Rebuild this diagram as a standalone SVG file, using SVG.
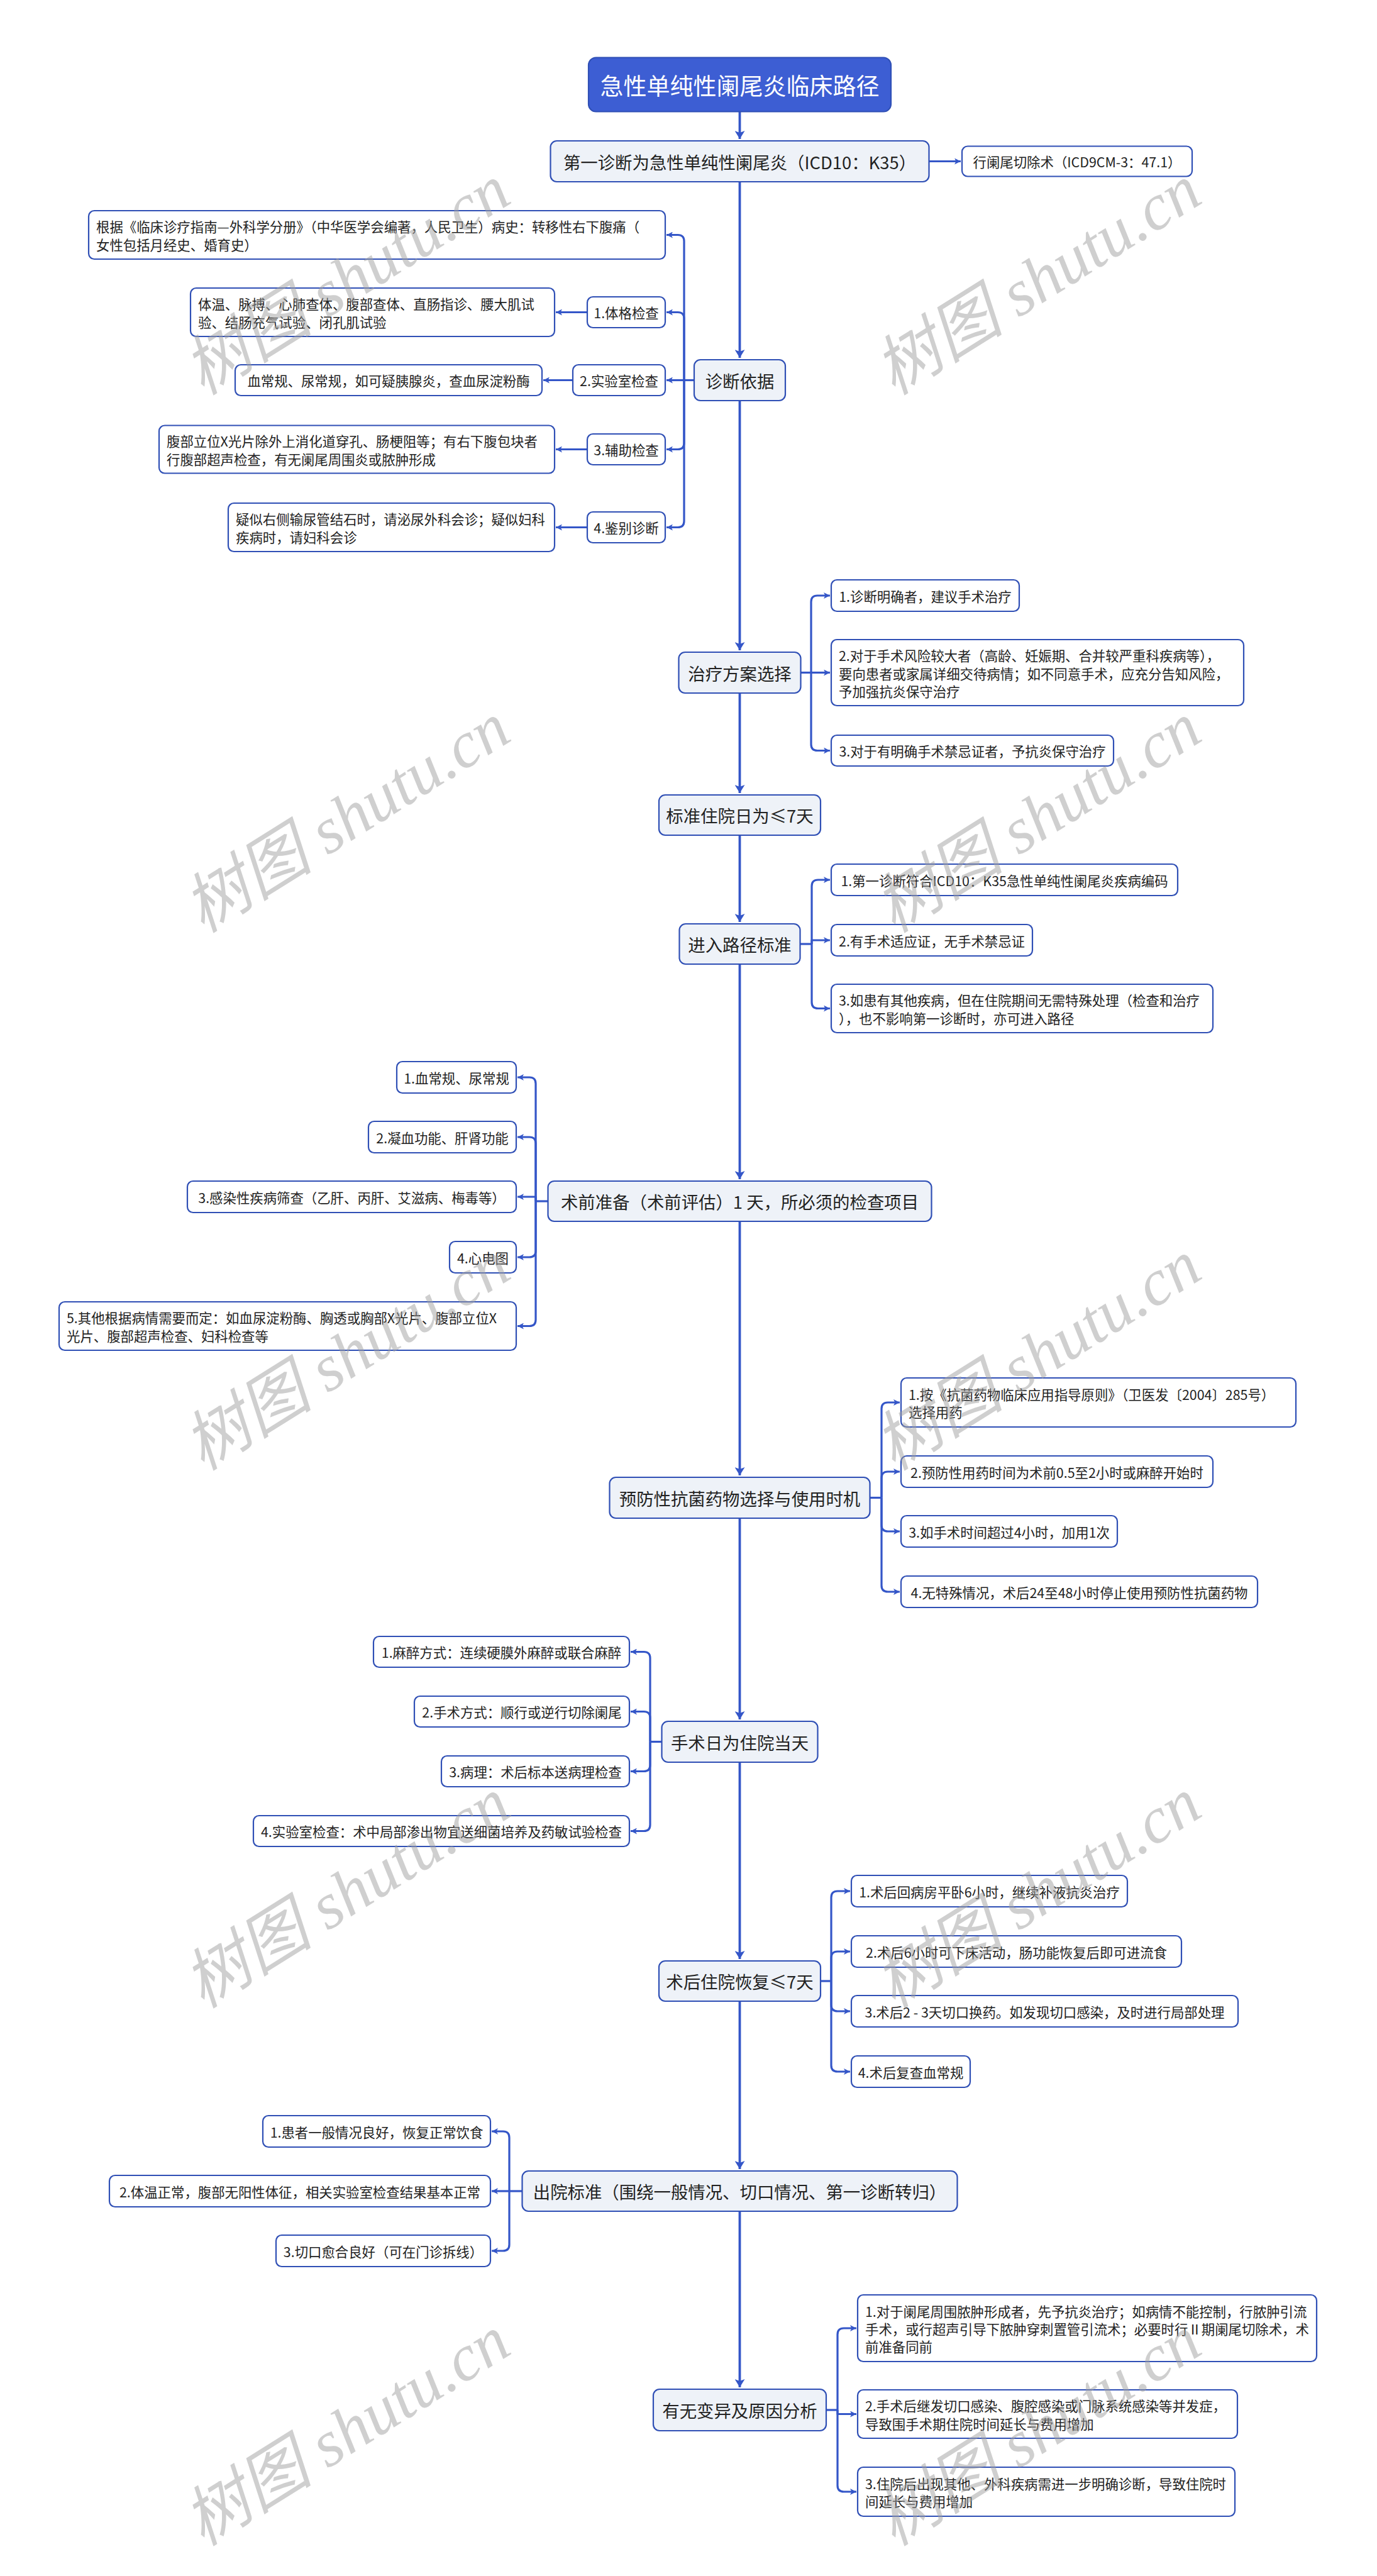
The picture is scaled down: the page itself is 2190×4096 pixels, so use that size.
<svg xmlns="http://www.w3.org/2000/svg" width="2190" height="4096" viewBox="0 0 2190 4096">
<style>
.t{font-family:"Noto Sans CJK SC","Noto Sans",sans-serif;fill:#222}
.f1{font-size:37px;fill:#fff}
.f2{font-size:27.4px}
.f3{font-size:21.4px}
.l1 rect{fill:#3d5ed3;stroke:#2f4fb5;stroke-width:2.2}
.l2 rect{fill:#eef2f8;stroke:#2f4fb5;stroke-width:2.2}
.l3 rect{fill:#fff;stroke:#2f4fb5;stroke-width:2.2}
.c{fill:none;stroke:#3456c8;stroke-width:3.2;stroke-linejoin:round}
.sp{fill:none;stroke:#3456c8;stroke-width:3.8}
.wm{font-family:"Liberation Serif","Noto Sans CJK SC",serif;font-style:italic;font-size:104px;fill:#a0a0a0;fill-opacity:.5}
</style>
<defs>
<marker id="ah" viewBox="0 0 10 10" refX="10" refY="5" markerWidth="10" markerHeight="10" markerUnits="userSpaceOnUse" orient="auto"><path d="M0,0 L10,5 L0,10 L2.5,5 z" fill="#3456c8"/></marker>
<marker id="ahb" viewBox="0 0 13 16" refX="13" refY="8" markerWidth="13" markerHeight="16" markerUnits="userSpaceOnUse" orient="auto"><path d="M0,0 L13,8 L0,16 L3,8 z" fill="#3456c8"/></marker>
</defs>
<rect width="2190" height="4096" fill="#fff"/>

<g id="connectors">
<g class="sp" marker-end="url(#ahb)">
<path d="M1176.5,178 V221"/>
<path d="M1176.5,289 V569"/>
<path d="M1176.5,637 V1034"/>
<path d="M1176.5,1102 V1261"/>
<path d="M1176.5,1328 V1466"/>
<path d="M1176.5,1533 V1875"/>
<path d="M1176.5,1942 V2346"/>
<path d="M1176.5,2414 V2734"/>
<path d="M1176.5,2802 V3115"/>
<path d="M1176.5,3182 V3449"/>
<path d="M1176.5,3516 V3796"/>
</g>
<g class="c">
<path d="M1104,604.5 H1088"/>
<path d="M1313,3832 H1332"/>
<path d="M1273,1069.5 H1290"/>
<path d="M1272,1501 H1291"/>
<path d="M871.5,1910 H852"/>
<path d="M1384,2381.5 H1402"/>
<path d="M1052.5,2769.5 H1034"/>
<path d="M1305,3150 H1322"/>
<path d="M830.5,3484 H810"/>
</g>
<g class="c" marker-end="url(#ah)">
<path d="M1477.5,256.5 H1528"/>
<path d="M1088,604.5 V383.5 Q1088,373.5 1078,373.5 H1060"/>
<path d="M1088,604.5 V506.5 Q1088,496.5 1078,496.5 H1060"/>
<path d="M1088,604.5 H1060"/>
<path d="M1088,604.5 V704.5 Q1088,714.5 1078,714.5 H1060"/>
<path d="M1088,604.5 V828.5 Q1088,838.5 1078,838.5 H1060"/>
<path d="M934,496.5 H884"/>
<path d="M911,604.5 H864"/>
<path d="M934,714.5 H884"/>
<path d="M934,838.5 H884"/>
<path d="M1290,1069.5 V957 Q1290,947 1300,947 H1320"/>
<path d="M1290,1069.5 H1320"/>
<path d="M1290,1069.5 V1183.5 Q1290,1193.5 1300,1193.5 H1320"/>
<path d="M1291,1501 V1409 Q1291,1399 1301,1399 H1320"/>
<path d="M1291,1501 V1495 H1320"/>
<path d="M1291,1501 V1593.5 Q1291,1603.5 1301,1603.5 H1320"/>
<path d="M852,1910 V1723 Q852,1713 842,1713 H823"/>
<path d="M852,1910 V1818 Q852,1808 842,1808 H823"/>
<path d="M852,1910 V1903 H823"/>
<path d="M852,1910 V1989 Q852,1999 842,1999 H823"/>
<path d="M852,1910 V2098.5 Q852,2108.5 842,2108.5 H823"/>
<path d="M1402,2381.5 V2240 Q1402,2230 1412,2230 H1431"/>
<path d="M1402,2381.5 V2350 Q1402,2340 1412,2340 H1431"/>
<path d="M1402,2381.5 V2425 Q1402,2435 1412,2435 H1431"/>
<path d="M1402,2381.5 V2521 Q1402,2531 1412,2531 H1431"/>
<path d="M1034,2769.5 V2636.5 Q1034,2626.5 1024,2626.5 H1003"/>
<path d="M1034,2769.5 V2731.5 Q1034,2721.5 1024,2721.5 H1003"/>
<path d="M1034,2769.5 V2806.5 Q1034,2816.5 1024,2816.5 H1003"/>
<path d="M1034,2769.5 V2901.5 Q1034,2911.5 1024,2911.5 H1003"/>
<path d="M1322,3150 V3017 Q1322,3007 1332,3007 H1352"/>
<path d="M1322,3150 V3113 Q1322,3103 1332,3103 H1352"/>
<path d="M1322,3150 V3188 Q1322,3198 1332,3198 H1352"/>
<path d="M1322,3150 V3284 Q1322,3294 1332,3294 H1352"/>
<path d="M810,3484 V3399 Q810,3389 800,3389 H782"/>
<path d="M810,3484 H782"/>
<path d="M810,3484 V3569 Q810,3579 800,3579 H782"/>
<path d="M1332,3832 V3712 Q1332,3702 1342,3702 H1362"/>
<path d="M1332,3832 V3838.5 H1362"/>
<path d="M1332,3832 V3952 Q1332,3962 1342,3962 H1362"/>
</g>
</g>

<g id="n0" class="l1"><rect x="936" y="91.5" width="481" height="86" rx="12"/><text class="t f1" x="1176.5" y="134.5" text-anchor="middle" dominant-baseline="central">急性单纯性阑尾炎临床路径</text></g>
<g id="n1" class="l2"><rect x="875.5" y="224" width="602" height="65" rx="10"/><text class="t f2" x="1176.5" y="256.5" text-anchor="middle" dominant-baseline="central">第一诊断为急性单纯性阑尾炎（ICD10：K35）</text></g>
<g id="n1r" class="l3"><rect x="1530" y="232.5" width="366" height="48" rx="9"/><text class="t f3" x="1713" y="256.5" text-anchor="middle" dominant-baseline="central">行阑尾切除术（ICD9CM-3：47.1）</text></g>

<g id="n2" class="l2"><rect x="1104" y="572" width="145" height="65" rx="10"/><text class="t f2" x="1176.5" y="604.5" text-anchor="middle" dominant-baseline="central">诊断依据</text></g>
<g id="n2a" class="l3"><rect x="141" y="335" width="917" height="77" rx="9"/><text class="t f3" dominant-baseline="central"><tspan x="153" y="359.4" dominant-baseline="central">根据《临床诊疗指南—外科学分册》（中华医学会编著，人民卫生）病史：转移性右下腹痛（</tspan><tspan x="153" y="387.6" dominant-baseline="central">女性包括月经史、婚育史）</tspan></text></g>
<g id="n2b" class="l3"><rect x="934" y="472" width="124" height="49" rx="9"/><text class="t f3" x="996" y="496.5" text-anchor="middle" dominant-baseline="central">1.体格检查</text></g>
<g id="n2b1" class="l3"><rect x="303" y="458" width="579" height="77" rx="9"/><text class="t f3" dominant-baseline="central"><tspan x="315" y="482.4" dominant-baseline="central">体温、脉搏、心肺查体、腹部查体、直肠指诊、腰大肌试</tspan><tspan x="315" y="510.6" dominant-baseline="central">验、结肠充气试验、闭孔肌试验</tspan></text></g>
<g id="n2c" class="l3"><rect x="911" y="580" width="147" height="49" rx="9"/><text class="t f3" x="984.5" y="604.5" text-anchor="middle" dominant-baseline="central">2.实验室检查</text></g>
<g id="n2c1" class="l3"><rect x="374" y="580" width="488" height="49" rx="9"/><text class="t f3" x="618" y="604.5" text-anchor="middle" dominant-baseline="central">血常规、尿常规，如可疑胰腺炎，查血尿淀粉酶</text></g>
<g id="n2d" class="l3"><rect x="934" y="690" width="124" height="49" rx="9"/><text class="t f3" x="996" y="714.5" text-anchor="middle" dominant-baseline="central">3.辅助检查</text></g>
<g id="n2d1" class="l3"><rect x="253" y="676.5" width="629" height="76" rx="9"/><text class="t f3" dominant-baseline="central"><tspan x="265" y="700.4" dominant-baseline="central">腹部立位X光片除外上消化道穿孔、肠梗阻等；有右下腹包块者</tspan><tspan x="265" y="728.6" dominant-baseline="central">行腹部超声检查，有无阑尾周围炎或脓肿形成</tspan></text></g>
<g id="n2e" class="l3"><rect x="934" y="814" width="124" height="49" rx="9"/><text class="t f3" x="996" y="838.5" text-anchor="middle" dominant-baseline="central">4.鉴别诊断</text></g>
<g id="n2e1" class="l3"><rect x="363" y="800" width="519" height="77" rx="9"/><text class="t f3" dominant-baseline="central"><tspan x="375" y="824.4" dominant-baseline="central">疑似右侧输尿管结石时，请泌尿外科会诊；疑似妇科</tspan><tspan x="375" y="852.6" dominant-baseline="central">疾病时，请妇科会诊</tspan></text></g>

<g id="n3" class="l2"><rect x="1079.5" y="1037" width="194" height="65" rx="10"/><text class="t f2" x="1176.5" y="1069.5" text-anchor="middle" dominant-baseline="central">治疗方案选择</text></g>
<g id="n3a" class="l3"><rect x="1322" y="922" width="299" height="50" rx="9"/><text class="t f3" x="1471.5" y="947" text-anchor="middle" dominant-baseline="central">1.诊断明确者，建议手术治疗</text></g>
<g id="n3b" class="l3"><rect x="1322" y="1017" width="656" height="105" rx="9"/><text class="t f3" dominant-baseline="central"><tspan x="1334" y="1041.3" dominant-baseline="central">2.对于手术风险较大者（高龄、妊娠期、合并较严重科疾病等），</tspan><tspan x="1334" y="1069.5" dominant-baseline="central">要向患者或家属详细交待病情；如不同意手术，应充分告知风险，</tspan><tspan x="1334" y="1097.7" dominant-baseline="central">予加强抗炎保守治疗</tspan></text></g>
<g id="n3c" class="l3"><rect x="1322" y="1169" width="449" height="49" rx="9"/><text class="t f3" x="1546.5" y="1193.5" text-anchor="middle" dominant-baseline="central">3.对于有明确手术禁忌证者，予抗炎保守治疗</text></g>

<g id="n4" class="l2"><rect x="1048" y="1264" width="257" height="64" rx="10"/><text class="t f2" x="1176.5" y="1296" text-anchor="middle" dominant-baseline="central">标准住院日为≤7天</text></g>

<g id="n5" class="l2"><rect x="1080.5" y="1469" width="192" height="64" rx="10"/><text class="t f2" x="1176.5" y="1501" text-anchor="middle" dominant-baseline="central">进入路径标准</text></g>
<g id="n5a" class="l3"><rect x="1322" y="1374" width="551" height="50" rx="9"/><text class="t f3" x="1597.5" y="1399" text-anchor="middle" dominant-baseline="central">1.第一诊断符合ICD10：K35急性单纯性阑尾炎疾病编码</text></g>
<g id="n5b" class="l3"><rect x="1322" y="1470" width="320" height="50" rx="9"/><text class="t f3" x="1482" y="1495" text-anchor="middle" dominant-baseline="central">2.有手术适应证，无手术禁忌证</text></g>
<g id="n5c" class="l3"><rect x="1322" y="1565" width="607" height="77" rx="9"/><text class="t f3" dominant-baseline="central"><tspan x="1334" y="1589.4" dominant-baseline="central">3.如患有其他疾病，但在住院期间无需特殊处理（检查和治疗</tspan><tspan x="1334" y="1617.6" dominant-baseline="central">），也不影响第一诊断时，亦可进入路径</tspan></text></g>

<g id="n6" class="l2"><rect x="871.5" y="1878" width="610" height="64" rx="10"/><text class="t f2" x="1176.5" y="1910" text-anchor="middle" dominant-baseline="central">术前准备（术前评估）1 天，所必须的检查项目</text></g>
<g id="n6a" class="l3"><rect x="631" y="1688" width="190" height="50" rx="9"/><text class="t f3" x="726" y="1713" text-anchor="middle" dominant-baseline="central">1.血常规、尿常规</text></g>
<g id="n6b" class="l3"><rect x="586" y="1783" width="235" height="50" rx="9"/><text class="t f3" x="703.5" y="1808" text-anchor="middle" dominant-baseline="central">2.凝血功能、肝肾功能</text></g>
<g id="n6c" class="l3"><rect x="298" y="1878" width="523" height="50" rx="9"/><text class="t f3" x="559.5" y="1903" text-anchor="middle" dominant-baseline="central">3.感染性疾病筛查（乙肝、丙肝、艾滋病、梅毒等）</text></g>
<g id="n6d" class="l3"><rect x="715" y="1974" width="106" height="50" rx="9"/><text class="t f3" x="768" y="1999" text-anchor="middle" dominant-baseline="central">4.心电图</text></g>
<g id="n6e" class="l3"><rect x="94" y="2070" width="727" height="77" rx="9"/><text class="t f3" dominant-baseline="central"><tspan x="106" y="2094.4" dominant-baseline="central">5.其他根据病情需要而定：如血尿淀粉酶、胸透或胸部X光片、腹部立位X</tspan><tspan x="106" y="2122.6" dominant-baseline="central">光片、腹部超声检查、妇科检查等</tspan></text></g>

<g id="n7" class="l2"><rect x="969.5" y="2349" width="414" height="65" rx="10"/><text class="t f2" x="1176.5" y="2381.5" text-anchor="middle" dominant-baseline="central">预防性抗菌药物选择与使用时机</text></g>
<g id="n7a" class="l3"><rect x="1433" y="2191" width="628" height="78" rx="9"/><text class="t f3" dominant-baseline="central"><tspan x="1445" y="2215.9" dominant-baseline="central">1.按《抗菌药物临床应用指导原则》（卫医发〔2004〕285号）</tspan><tspan x="1445" y="2244.1" dominant-baseline="central">选择用药</tspan></text></g>
<g id="n7b" class="l3"><rect x="1433" y="2315" width="496" height="50" rx="9"/><text class="t f3" x="1681" y="2340" text-anchor="middle" dominant-baseline="central">2.预防性用药时间为术前0.5至2小时或麻醉开始时</text></g>
<g id="n7c" class="l3"><rect x="1433" y="2410" width="344" height="50" rx="9"/><text class="t f3" x="1605" y="2435" text-anchor="middle" dominant-baseline="central">3.如手术时间超过4小时，加用1次</text></g>
<g id="n7d" class="l3"><rect x="1433" y="2506" width="567" height="50" rx="9"/><text class="t f3" x="1716.5" y="2531" text-anchor="middle" dominant-baseline="central">4.无特殊情况，术后24至48小时停止使用预防性抗菌药物</text></g>

<g id="n8" class="l2"><rect x="1052.5" y="2737" width="248" height="65" rx="10"/><text class="t f2" x="1176.5" y="2769.5" text-anchor="middle" dominant-baseline="central">手术日为住院当天</text></g>
<g id="n8a" class="l3"><rect x="594" y="2602" width="407" height="49" rx="9"/><text class="t f3" x="797.5" y="2626.5" text-anchor="middle" dominant-baseline="central">1.麻醉方式：连续硬膜外麻醉或联合麻醉</text></g>
<g id="n8b" class="l3"><rect x="659" y="2697" width="342" height="49" rx="9"/><text class="t f3" x="830" y="2721.5" text-anchor="middle" dominant-baseline="central">2.手术方式：顺行或逆行切除阑尾</text></g>
<g id="n8c" class="l3"><rect x="702" y="2792" width="299" height="49" rx="9"/><text class="t f3" x="851.5" y="2816.5" text-anchor="middle" dominant-baseline="central">3.病理：术后标本送病理检查</text></g>
<g id="n8d" class="l3"><rect x="403" y="2887" width="598" height="49" rx="9"/><text class="t f3" x="702" y="2911.5" text-anchor="middle" dominant-baseline="central">4.实验室检查：术中局部渗出物宜送细菌培养及药敏试验检查</text></g>

<g id="n9" class="l2"><rect x="1048" y="3118" width="257" height="64" rx="10"/><text class="t f2" x="1176.5" y="3150" text-anchor="middle" dominant-baseline="central">术后住院恢复≤7天</text></g>
<g id="n9a" class="l3"><rect x="1354" y="2982" width="439" height="50" rx="9"/><text class="t f3" x="1573.5" y="3007" text-anchor="middle" dominant-baseline="central">1.术后回病房平卧6小时，继续补液抗炎治疗</text></g>
<g id="n9b" class="l3"><rect x="1354" y="3078" width="525" height="50" rx="9"/><text class="t f3" x="1616.5" y="3103" text-anchor="middle" dominant-baseline="central">2.术后6小时可下床活动，肠功能恢复后即可进流食</text></g>
<g id="n9c" class="l3"><rect x="1354" y="3173" width="615" height="50" rx="9"/><text class="t f3" x="1661.5" y="3198" text-anchor="middle" dominant-baseline="central">3.术后2 - 3天切口换药。如发现切口感染，及时进行局部处理</text></g>
<g id="n9d" class="l3"><rect x="1354" y="3269" width="189" height="50" rx="9"/><text class="t f3" x="1448.5" y="3294" text-anchor="middle" dominant-baseline="central">4.术后复查血常规</text></g>

<g id="n10" class="l2"><rect x="830.5" y="3452" width="692" height="64" rx="10"/><text class="t f2" x="1176.5" y="3484" text-anchor="middle" dominant-baseline="central">出院标准（围绕一般情况、切口情况、第一诊断转归）</text></g>
<g id="n10a" class="l3"><rect x="418" y="3364" width="362" height="50" rx="9"/><text class="t f3" x="599" y="3389" text-anchor="middle" dominant-baseline="central">1.患者一般情况良好，恢复正常饮食</text></g>
<g id="n10b" class="l3"><rect x="174" y="3459" width="606" height="50" rx="9"/><text class="t f3" x="477" y="3484" text-anchor="middle" dominant-baseline="central">2.体温正常，腹部无阳性体征，相关实验室检查结果基本正常</text></g>
<g id="n10c" class="l3"><rect x="439" y="3554" width="341" height="50" rx="9"/><text class="t f3" x="609.5" y="3579" text-anchor="middle" dominant-baseline="central">3.切口愈合良好（可在门诊拆线）</text></g>

<g id="n11" class="l2"><rect x="1039" y="3799" width="275" height="66" rx="10"/><text class="t f2" x="1176.5" y="3832" text-anchor="middle" dominant-baseline="central">有无变异及原因分析</text></g>
<g id="n11a" class="l3"><rect x="1364" y="3649" width="730" height="106" rx="9"/><text class="t f3" dominant-baseline="central"><tspan x="1376" y="3673.8" dominant-baseline="central">1.对于阑尾周围脓肿形成者，先予抗炎治疗；如病情不能控制，行脓肿引流</tspan><tspan x="1376" y="3702" dominant-baseline="central">手术，或行超声引导下脓肿穿刺置管引流术；必要时行Ⅱ期阑尾切除术，术</tspan><tspan x="1376" y="3730.2" dominant-baseline="central">前准备同前</tspan></text></g>
<g id="n11b" class="l3"><rect x="1364" y="3800" width="604" height="77" rx="9"/><text class="t f3" dominant-baseline="central"><tspan x="1376" y="3824.4" dominant-baseline="central">2.手术后继发切口感染、腹腔感染或门脉系统感染等并发症，</tspan><tspan x="1376" y="3852.6" dominant-baseline="central">导致围手术期住院时间延长与费用增加</tspan></text></g>
<g id="n11c" class="l3"><rect x="1364" y="3923" width="600" height="78" rx="9"/><text class="t f3" dominant-baseline="central"><tspan x="1376" y="3947.9" dominant-baseline="central">3.住院后出现其他、外科疾病需进一步明确诊断，导致住院时</tspan><tspan x="1376" y="3976.1" dominant-baseline="central">间延长与费用增加</tspan></text></g>

<g id="watermarks" class="wm" text-anchor="middle" dominant-baseline="central">
<text transform="translate(551,445) rotate(-32)">树图 shutu.cn</text>
<text transform="translate(1650,445) rotate(-32)">树图 shutu.cn</text>
<text transform="translate(551,1300) rotate(-32)">树图 shutu.cn</text>
<text transform="translate(1650,1300) rotate(-32)">树图 shutu.cn</text>
<text transform="translate(551,2155) rotate(-32)">树图 shutu.cn</text>
<text transform="translate(1650,2155) rotate(-32)">树图 shutu.cn</text>
<text transform="translate(551,3010) rotate(-32)">树图 shutu.cn</text>
<text transform="translate(1650,3010) rotate(-32)">树图 shutu.cn</text>
<text transform="translate(551,3865) rotate(-32)">树图 shutu.cn</text>
<text transform="translate(1650,3865) rotate(-32)">树图 shutu.cn</text>
</g>
</svg>
